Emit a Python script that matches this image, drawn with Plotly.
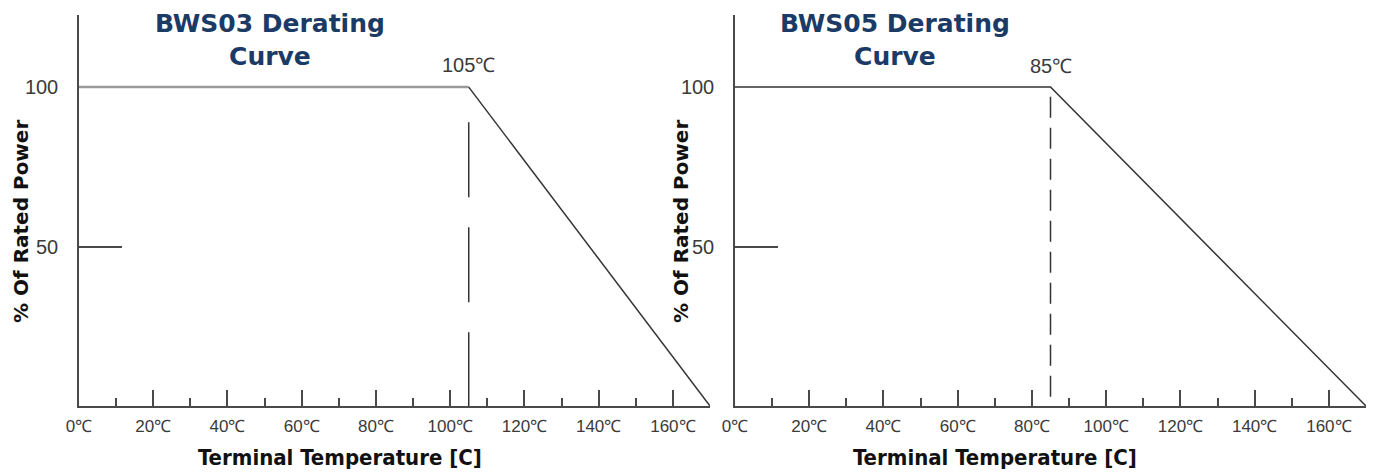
import plotly.graph_objects as go

# ---- data ----
bws03_temp = [0, 105, 170]
bws03_power = [100, 100, 0]
bws05_temp = [0, 85, 170]
bws05_power = [100, 100, 0]
bws03_knee_label = "105℃"
bws05_knee_label = "85℃"
bws03_dash_top = 89
bws05_dash_top = 97
x_ticks = [0, 20, 40, 60, 80, 100, 120, 140, 160]
x_minor_ticks = [10, 30, 50, 70, 90, 110, 130, 150]
y_ticks = [50, 100]
y_minor_ticks = [50]
titles = ["BWS03 Derating<br>Curve", "BWS05 Derating<br>Curve"]
x_title = "Terminal Temperature [C]"
y_title = "% Of Rated Power"

W, H = 1377, 474
OFF = 8  # page body margin offset
AX = "#4a4a4a"
DARK = "#333333"
NAVY = "#1b3a66"


def px(x):
    return (x - OFF) / W


def py(y):
    return 1 - (y - OFF) / H


fig = go.Figure()

# left panel
fig.add_trace(go.Scatter(x=bws03_temp[:2], y=bws03_power[:2], mode="lines",
                         line=dict(color="#9a9a9a", width=2.5), xaxis="x", yaxis="y",
                         cliponaxis=False, showlegend=False, hoverinfo="skip"))
fig.add_trace(go.Scatter(x=bws03_temp[1:], y=bws03_power[1:], mode="lines",
                         line=dict(color=DARK, width=1.5), xaxis="x", yaxis="y",
                         cliponaxis=False, showlegend=False, hoverinfo="skip"))
fig.add_trace(go.Scatter(x=[bws03_temp[1], bws03_temp[1]], y=[bws03_dash_top, 0], mode="lines",
                         line=dict(color=DARK, width=1.5, dash="75px,30px"), xaxis="x", yaxis="y",
                         cliponaxis=False, showlegend=False, hoverinfo="skip"))
# right panel
fig.add_trace(go.Scatter(x=bws05_temp, y=bws05_power, mode="lines",
                         line=dict(color=DARK, width=1.5), xaxis="x2", yaxis="y2",
                         cliponaxis=False, showlegend=False, hoverinfo="skip"))
fig.add_trace(go.Scatter(x=[bws05_temp[1], bws05_temp[1]], y=[bws05_dash_top, 0], mode="lines",
                         line=dict(color=DARK, width=1.5, dash="21px,10px"), xaxis="x2", yaxis="y2",
                         cliponaxis=False, showlegend=False, hoverinfo="skip"))

tickfont = dict(family="Liberation Sans, Arial, sans-serif", size=17, color="#3a3a3a")
yfont = dict(family="Liberation Sans, Arial, sans-serif", size=20, color="#3a3a3a")


def xaxis_cfg(domain, anchor):
    return dict(domain=domain, anchor=anchor, range=[0, 170], showgrid=False, zeroline=False,
                showline=True, linecolor=AX, linewidth=1.5, automargin=False,
                tickmode="array", tickvals=x_ticks, ticktext=[f"{v}℃" for v in x_ticks],
                ticks="inside", ticklen=16, tickwidth=1.5, tickcolor=AX,
                minor=dict(tickmode="array", tickvals=x_minor_ticks, ticks="inside",
                           ticklen=8, tickwidth=1.5, tickcolor=AX),
                tickfont=tickfont, ticklabelstandoff=4, fixedrange=True)


def yaxis_cfg(anchor):
    return dict(domain=[py(406), py(15)], anchor=anchor, range=[0, 122.6],
                showgrid=False, zeroline=False, showline=True, linecolor=AX, linewidth=1.5,
                automargin=False,
                tickmode="array", tickvals=y_ticks, ticks="", tickfont=yfont,
                ticklabelstandoff=15,
                minor=dict(tickmode="array", tickvals=y_minor_ticks, ticks="inside",
                           ticklen=43, tickwidth=1.5, tickcolor=AX),
                fixedrange=True)


fig.update_layout(
    width=W, height=H, margin=dict(l=0, r=0, t=0, b=0),
    plot_bgcolor="white", paper_bgcolor="white", showlegend=False,
    xaxis=xaxis_cfg([px(79), px(710)], "y"),
    yaxis=yaxis_cfg("x"),
    xaxis2=xaxis_cfg([px(735), px(1366)], "y2"),
    yaxis2=yaxis_cfg("x2"),
)

ann = []
title_font = dict(family="DejaVu Sans, Verdana, sans-serif", size=25, color=NAVY)
for cx, t in zip([270, 895], titles):
    ann.append(dict(x=px(cx), y=py(7), xref="paper", yref="paper", xanchor="center",
                    yanchor="top", text=f"<b>{t}</b>", showarrow=False, font=title_font))
xt_font = dict(family="DejaVu Sans Condensed, Liberation Sans Narrow, DejaVu Sans", size=22, color="#111")
for cx in [340, 995]:
    ann.append(dict(x=px(cx), y=py(457), xref="paper", yref="paper", xanchor="center",
                    yanchor="middle", text=f"<b>{x_title}</b>", showarrow=False, font=xt_font))
yt_font = dict(family="DejaVu Sans, Verdana, sans-serif", size=20, color="#111")
for cx in [21, 681]:
    ann.append(dict(x=px(cx), y=py(222), xref="paper", yref="paper", xanchor="center",
                    yanchor="middle", text=f"<b>{y_title}</b>", textangle=-90, showarrow=False,
                    font=yt_font))
knee_font = dict(family="Liberation Sans, Arial, sans-serif", size=20, color="#3a3a3a")
ann.append(dict(x=bws03_temp[1], y=bws03_power[1], xref="x", yref="y", xanchor="center",
                yanchor="middle", yshift=22, text=bws03_knee_label, showarrow=False, font=knee_font))
ann.append(dict(x=bws05_temp[1], y=bws05_power[1], xref="x2", yref="y2", xanchor="center",
                yanchor="middle", yshift=21, text=bws05_knee_label, showarrow=False, font=knee_font))
fig.update_layout(annotations=ann)

fig.write_html("out.html")
